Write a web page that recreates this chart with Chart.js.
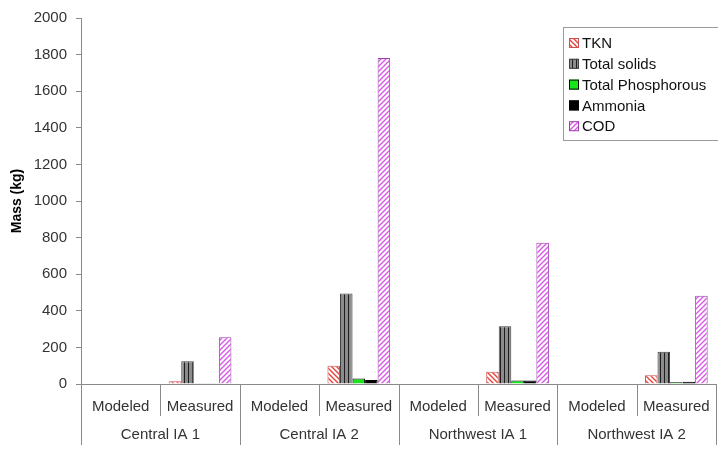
<!DOCTYPE html>
<html>
<head>
<meta charset="utf-8">
<script src="https://cdn.jsdelivr.net/npm/chart.js@4"></script>
<style>
  html, body { margin: 0; padding: 0; background: #fff; }
  #wrap { width: 718px; height: 449px; position: relative; }
</style>
</head>
<body>
<div id="wrap"><canvas id="chart"></canvas></div>
<script>
// sub categories and groups
const subLabels = ["Modeled", "Measured", "Modeled", "Measured", "Modeled", "Measured", "Modeled", "Measured"];
const groupLabels = ["Central IA 1", "Central IA 2", "Northwest IA 1", "Northwest IA 2"];

// values (kg)
const tkn = [0, 15, 0, 100, 0, 67, 0, 48];
const totalSolids = [0, 124, 0, 494, 0, 316, 0, 176];
const totalPhos = [0, 4, 0, 30, 0, 19, 0, 9];
const ammonia = [0, 4, 0, 22, 0, 19, 0, 12];
const cod = [0, 255, 0, 1782, 0, 772, 0, 482];

const yTicks = [0, 200, 400, 600, 800, 1000, 1200, 1400, 1600, 1800, 2000];

const FONT = "'Liberation Sans', Arial, sans-serif";

function makePattern(bg, fg, kind) {
    let c = document.createElement("canvas");
    c.width = 5;
    c.height = 5;
    let g = c.getContext("2d");
    g.fillStyle = bg;
    g.fillRect(0, 0, 5, 5);
    g.strokeStyle = fg;
    g.lineWidth = 1.4;
    g.beginPath();
    if (kind === "down") {
        g.moveTo(-2.5, 2.5); g.lineTo(2.5, 7.5);
        g.moveTo(0, 0); g.lineTo(5, 5);
        g.moveTo(2.5, -2.5); g.lineTo(7.5, 2.5);
    } else if (kind === "up") {
        g.moveTo(-2.5, 2.5); g.lineTo(2.5, -2.5);
        g.moveTo(0, 5); g.lineTo(5, 0);
        g.moveTo(2.5, 7.5); g.lineTo(7.5, 2.5);
    }
    g.stroke();
    return g.createPattern(c, "repeat");
}

function solidsPattern() {
    let c = document.createElement("canvas");
    c.width = 4;
    c.height = 4;
    let g = c.getContext("2d");
    g.fillStyle = "#8c8c8c";
    g.fillRect(0, 0, 4, 4);
    g.fillStyle = "#1e1e1e";
    g.fillRect(0, 0, 1, 4);
    return g.createPattern(c, "repeat");
}

let ctx = document.getElementById("chart").getContext("2d");

// draw legend box inside the plot and the category divider lines
const extras = {
    id: "extras",
    afterDraw(chart) {
        let c = chart.ctx;
        let x = chart.scales.x;
        let area = chart.chartArea;
        let step = x.getPixelForValue(1) - x.getPixelForValue(0);
        c.save();
        c.strokeStyle = "#8a8a8a";
        c.lineWidth = 1;
        for (let i = 0; i <= subLabels.length; i++) {
            let px = Math.round(x.getPixelForValue(i) - step / 2) + 0.5;
            let bottom = (i % 2 === 0) ? chart.height - 4 : area.bottom + 32;
            c.beginPath();
            c.moveTo(px, area.bottom);
            c.lineTo(px, bottom);
            c.stroke();
        }
        // legend
        let lx = 563.5, ly = 27.5, lw = 160, lh = 113;
        c.fillStyle = "#fff";
        c.fillRect(lx, ly, lw, lh);
        c.strokeStyle = "#9a9a9a";
        c.strokeRect(lx, ly, lw, lh);
        c.font = "15px " + FONT;
        c.textBaseline = "middle";
        chart.data.datasets.forEach((ds, i) => {
            let cy = 43 + i * 20.8;
            c.fillStyle = ds.backgroundColor;
            c.fillRect(569, cy - 5, 10, 10);
            c.strokeStyle = ds.borderColor;
            c.strokeRect(569.5, cy - 4.5, 9, 9);
            c.fillStyle = "#111";
            c.fillText(ds.label, 582, cy + 1);
        });
        c.restore();
    }
};

window.myChart = new Chart(ctx, {
    type: "bar",
    data: {
        labels: subLabels,
        datasets: [
            { label: "TKN", data: tkn, backgroundColor: makePattern("#ffffff", "#e8433a", "down"), borderColor: "#d05050", borderWidth: 1 },
            { label: "Total solids", data: totalSolids, backgroundColor: solidsPattern(), borderColor: "#404040", borderWidth: 1 },
            { label: "Total Phosphorous", data: totalPhos, backgroundColor: "#19e619", borderColor: "#000000", borderWidth: 1 },
            { label: "Ammonia", data: ammonia, backgroundColor: "#000000", borderColor: "#000000", borderWidth: 1 },
            { label: "COD", data: cod, backgroundColor: makePattern("#ffffff", "#d957e6", "up"), borderColor: "#a040b0", borderWidth: 1 }
        ]
    },
    options: {
        responsive: true,
        maintainAspectRatio: false,
        animation: false,
        categoryPercentage: 0.79,
        barPercentage: 1.0,
        layout: { padding: { top: 8, right: 2, bottom: 3, left: 0 } },
        plugins: { legend: { display: false }, tooltip: { enabled: false } },
        scales: {
            x: {
                type: "category",
                grid: { display: false },
                border: { color: "#8a8a8a" },
                ticks: {
                    color: "#333",
                    padding: 6,
                    maxRotation: 0,
                    font: { family: FONT, size: 15 }
                },
                afterFit: (s) => { s.height = 32; }
            },
            x2: {
                type: "category",
                labels: groupLabels,
                position: "bottom",
                grid: { display: false },
                border: { display: false },
                ticks: {
                    color: "#333",
                    padding: 2,
                    maxRotation: 0,
                    font: { family: FONT, size: 15 }
                },
                afterFit: (s) => { s.height = 30; }
            },
            y: {
                min: 0,
                max: 2000,
                afterBuildTicks: (s) => { s.ticks = yTicks.map(v => ({ value: v })); },
                grid: { display: true, drawOnChartArea: false, drawTicks: true, tickLength: 5, color: "#8a8a8a" },
                border: { color: "#8a8a8a" },
                ticks: {
                    color: "#333",
                    padding: 9,
                    callback: (v) => String(v),
                    font: { family: FONT, size: 15 }
                },
                title: {
                    display: true,
                    text: "Mass (kg)",
                    color: "#000",
                    padding: { top: 0, bottom: 0 },
                    font: { family: FONT, size: 14, weight: "bold", lineHeight: 2.4 }
                },
                afterFit: (s) => { s.width = 81; }
            }
        }
    },
    plugins: [extras]
});
</script>
</body>
</html>
